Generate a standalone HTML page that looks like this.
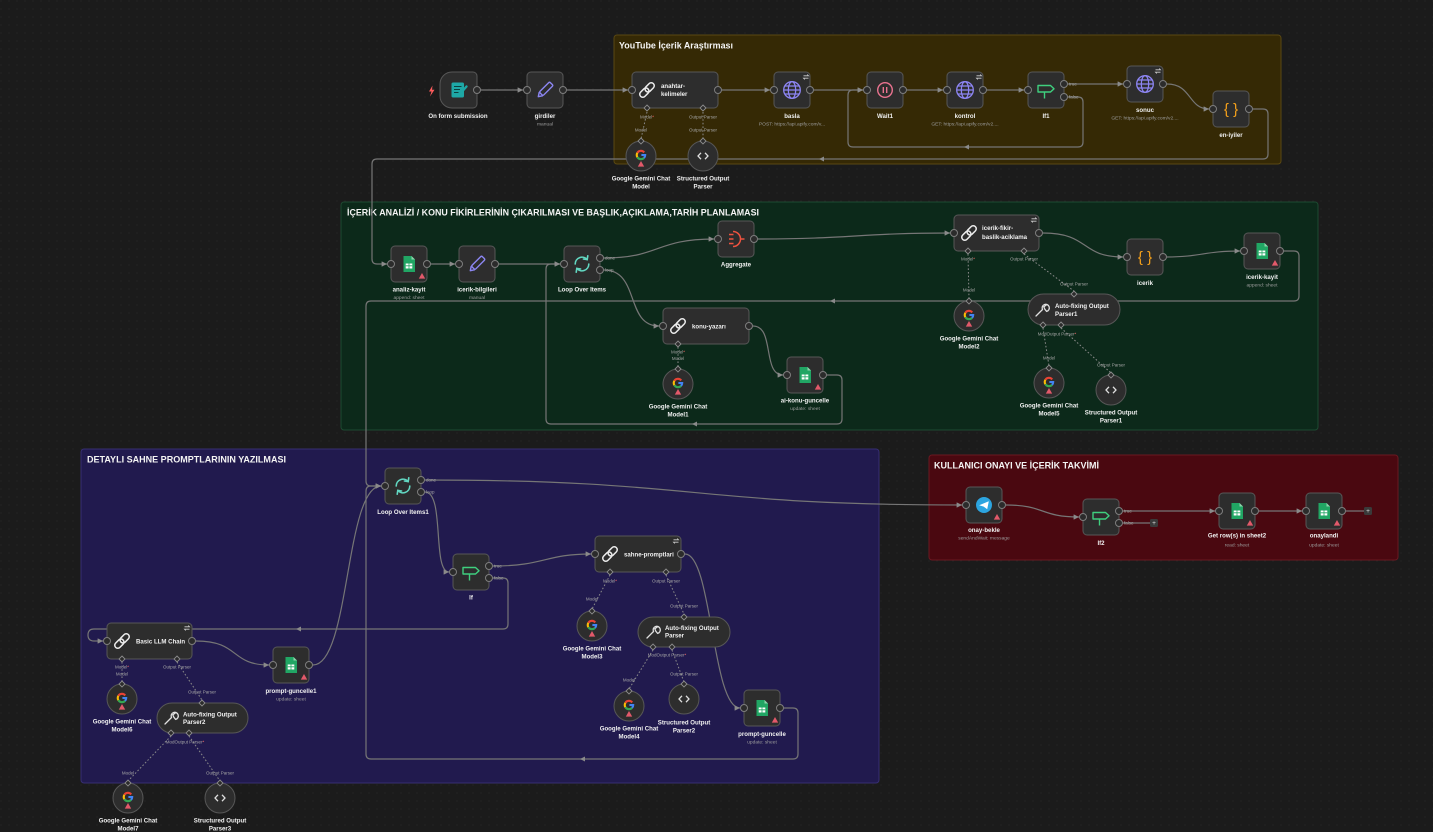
<!DOCTYPE html>
<html><head><meta charset="utf-8">
<style>
html,body{margin:0;padding:0;background:#1b1b1b;}
svg{display:block}
.n{fill:#2d2d2d;stroke:#575757;stroke-width:1}
.hd{fill:#2b2b2b;stroke:#7e7e7e;stroke-width:1}
.dm{fill:#2b2b2b;stroke:#8c8c8c;stroke-width:0.9}
.e{fill:none;stroke:#767676;stroke-width:1.2}
.d{fill:none;stroke:#8a8a8a;stroke-width:1;stroke-dasharray:1.6 2}
.t{font-size:6.1px;font-weight:bold;fill:#f0f0f0;text-anchor:middle}
.wt{font-size:6.1px;font-weight:bold;fill:#f0f0f0}
.s{font-size:4.9px;fill:#9c9c9c;text-anchor:middle}
.h{font-size:4.5px;fill:#a6a6a6;text-anchor:middle}
.o{font-size:4.5px;fill:#a6a6a6}
.g{font-size:9.5px;font-weight:bold;fill:#f4f4f4}
.br{font-size:15px;fill:#f7a21b;text-anchor:middle}
text{font-family:"Liberation Sans",Arial,sans-serif}
</style></head>
<body>
<svg width="1433" height="832" viewBox="0 0 1433 832" xmlns="http://www.w3.org/2000/svg">
<defs>
<pattern id="dots" width="8" height="8" patternUnits="userSpaceOnUse"><circle cx="1" cy="1" r="0.55" fill="#2f2f2f"/></pattern>
<marker id="ar" viewBox="0 0 10 10" refX="10" refY="5" markerWidth="4.5" markerHeight="4.5" orient="auto"><path d="M0,0 L10,5 L0,10 z" fill="#8a8a8a"/></marker>
<g id="sheet"><path d="M-5.5,-8 H2.5 L6,-4.5 V8 H-5.5 Z" fill="#21a664"/><path d="M2.5,-8 V-4.5 H6 Z" fill="#8fd3ab"/><rect x="-3.3" y="-0.5" width="6.6" height="5" fill="#fff"/><path d="M-3.3,1.8 H3.3 M0,-0.5 V4.5" stroke="#21a664" stroke-width="0.8"/></g>
<g id="globe" fill="none" stroke="#8d85f3" stroke-width="1.3"><circle r="8.3"/><ellipse rx="3.7" ry="8.3"/><path d="M-8.3,0 H8.3 M-7.2,-4 H7.2 M-7.2,4 H7.2"/></g>
<g id="pause" fill="none" stroke="#ea7390" stroke-width="1.4"><circle r="7.3"/><path d="M-1.7,-3 V3 M1.7,-3 V3"/></g>
<g id="ifi" fill="none" stroke="#3fcf7e" stroke-width="1.4" stroke-linejoin="round"><path d="M-8,-4.5 H4.5 L8,-1.2 L4.5,2 H-8 Z"/><path d="M-1.5,2 V8.5"/></g>
<g id="link" fill="none" stroke="#ececec" stroke-width="1.5"><g transform="rotate(-45)"><rect x="-9" y="-3" width="10.5" height="6" rx="3"/><rect x="-1.5" y="-3" width="10.5" height="6" rx="3"/></g></g>
<g id="pencil" fill="none" stroke="#8c86f2" stroke-width="1.4" stroke-linejoin="round"><g transform="rotate(45)"><rect x="-2.6" y="-9" width="5.2" height="14.5" rx="1.3"/><path d="M-2.6,5.5 L0,9.5 L2.6,5.5"/></g></g>
<g id="loop" fill="none" stroke="#62d7c1" stroke-width="1.6" stroke-linecap="round"><path d="M-6.8,0 A6.8,6.8 0 0 1 5.2,-4.4"/><path d="M6.8,0 A6.8,6.8 0 0 1 -5.2,4.4"/><path d="M5.8,-8.2 L5.2,-4.4 L1.4,-5"/><path d="M-5.8,8.2 L-5.2,4.4 L-1.4,5"/></g>
<g id="agg" fill="none" stroke="#ee5340" stroke-width="1.5"><path d="M-7,-4.5 H-2.5 M-7,0 H-2.5 M-7,4.5 H-2.5"/><path d="M-3,-7.5 A7.5,7.5 0 0 1 -3,7.5"/><path d="M4.5,0 H8.5"/></g>
<g id="form"><rect x="-7.5" y="-7.5" width="12.5" height="15" rx="1.6" fill="#1ea8a6"/><path d="M-5,-3.5 H2.5 M-5,-0.5 H1 M-5,2.5 H-0.5" stroke="#0c3e3d" stroke-width="1"/><path d="M0.5,4.5 L7.5,-3.5" stroke="#1ea8a6" stroke-width="2.4" stroke-linecap="round"/></g>
<g id="wrench" fill="none" stroke="#e0e0e0" stroke-width="1.3" stroke-linecap="round"><path d="M-6,6 L0.5,-0.5"/><path d="M0.5,-0.5 A3.6,3.6 0 1 1 4.6,1.4 L2.8,-0.8 L1.8,-3.2 L4.4,-5.2"/></g>
<g id="code" fill="none" stroke="#e0e0e0" stroke-width="1.3"><path d="M-2,-3.2 L-5,0 L-2,3.2 M2,-3.2 L5,0 L2,3.2"/></g>
<g id="tg"><circle r="8" fill="#2ca5e0"/><path d="M-4.8,0.2 L4.8,-3.8 L3.2,4.2 L-0.3,1.6 Z" fill="#fff"/></g>
<g id="gg" fill="none" stroke-width="2.1"><path d="M3.2,-2.6 A4.2,4.2 0 0 0 -3.6,-2.2" stroke="#ea4335"/><path d="M-3.6,-2.2 A4.2,4.2 0 0 0 -3.6,2.2" stroke="#fbbc05"/><path d="M-3.6,2.2 A4.2,4.2 0 0 0 3,2.9" stroke="#34a853"/><path d="M3,2.9 A4.2,4.2 0 0 0 4.2,0 H0.4" stroke="#4285f4"/></g>
<path id="warn" d="M0,-3 L3.2,2.6 H-3.2 Z" fill="#e2596a"/>
<path id="rf" d="M-2.5,-1.2 H2.5 L1.2,-2.5 M2.5,1.2 H-2.5 L-1.2,2.5" fill="none" stroke="#cfcfcf" stroke-width="0.8"/>
</defs>

<rect width="1433" height="832" fill="#1b1b1b"/>
<rect width="1433" height="832" fill="url(#dots)"/>

<rect x="614" y="35" width="667" height="129" rx="3" fill="#352905" stroke="#5a4812"/>
<rect x="341" y="202" width="977" height="228" rx="3" fill="#0c291a" stroke="#1d4a31"/>
<rect x="81" y="449" width="798" height="334" rx="3" fill="#211a4e" stroke="#372f72"/>
<rect x="929" y="455" width="469" height="105" rx="3" fill="#4a0810" stroke="#6b1821"/>
<text x="619" y="48.5" class="g" textLength="114" lengthAdjust="spacingAndGlyphs">YouTube İçerik Araştırması</text>
<text x="347" y="215.5" class="g" textLength="412" lengthAdjust="spacingAndGlyphs">İÇERİK ANALİZİ / KONU FİKİRLERİNİN ÇIKARILMASI VE BAŞLIK,AÇIKLAMA,TARİH PLANLAMASI</text>
<text x="87" y="462.5" class="g" textLength="199" lengthAdjust="spacingAndGlyphs">DETAYLI SAHNE PROMPTLARININ YAZILMASI</text>
<text x="934" y="468.5" class="g" textLength="165" lengthAdjust="spacingAndGlyphs">KULLANICI ONAYI VE İÇERİK TAKVİMİ</text>

<g>
<path class="e" d="M481,90 H523" marker-end="url(#ar)"/>
<path class="e" d="M567,90 H628" marker-end="url(#ar)"/>
<path class="e" d="M722,90 H770" marker-end="url(#ar)"/>
<path class="e" d="M814,90 H863" marker-end="url(#ar)"/>
<path class="e" d="M907,90 H943" marker-end="url(#ar)"/>
<path class="e" d="M987,90 H1024" marker-end="url(#ar)"/>
<path class="e" d="M1068,84 H1123" marker-end="url(#ar)"/>
<path class="e" d="M1167,84 C1192,84 1188,109 1209,109" marker-end="url(#ar)"/>
<path class="e" d="M1068,97 H1078 Q1083,97 1083,102 V142 Q1083,147 1078,147 H853 Q848,147 848,142 V95 Q848,90 853,90 H863" marker-end="url(#ar)"/>
<path class="e" d="M1253,109 H1263 Q1268,109 1268,114 V154 Q1268,159 1263,159 H377 Q372,159 372,164 V259 Q372,264 377,264 H387" marker-end="url(#ar)"/>
<path class="e" d="M431,264 H455" marker-end="url(#ar)"/>
<path class="e" d="M499,264 H560" marker-end="url(#ar)"/>
<path class="e" d="M604,258 C660,258 655,239 714,239" marker-end="url(#ar)"/>
<path class="e" d="M604,270 C640,270 625,326 659,326" marker-end="url(#ar)"/>
<path class="e" d="M758,239 C850,239 860,233 950,233" marker-end="url(#ar)"/>
<path class="e" d="M1043,233 C1090,233 1080,257 1123,257" marker-end="url(#ar)"/>
<path class="e" d="M1167,257 C1200,257 1205,251 1240,251" marker-end="url(#ar)"/>
<path class="e" d="M753,326 C775,326 762,375 783,375" marker-end="url(#ar)"/>
<path class="e" d="M827,375 H837 Q842,375 842,380 V419 Q842,424 837,424 H551 Q546,424 546,419 V269 Q546,264 551,264 H560" marker-end="url(#ar)"/>
<path class="e" d="M1284,251 H1294 Q1299,251 1299,256 V296 Q1299,301 1294,301 H371 Q366,301 366,306 V481 Q366,486 371,486 H381" marker-end="url(#ar)"/>
<path class="e" d="M425,480 C700,480 690,505 962,505" marker-end="url(#ar)"/>
<path class="e" d="M425,492 C445,492 432,572 449,572" marker-end="url(#ar)"/>
<path class="e" d="M493,566 C545,566 545,554 591,554" marker-end="url(#ar)"/>
<path class="e" d="M493,578 H503 Q508,578 508,583 V624 Q508,629 503,629 H94 Q88,629 88,635 Q88,641 94,641 H103" marker-end="url(#ar)"/>
<path class="e" d="M196,641 C240,641 230,665 269,665" marker-end="url(#ar)"/>
<path class="e" d="M313,665 C350,665 345,486 381,486" marker-end="url(#ar)"/>
<path class="e" d="M685,554 C712,554 712,708 740,708" marker-end="url(#ar)"/>
<path class="e" d="M784,708 H793 Q798,708 798,713 V754 Q798,759 793,759 H371 Q366,759 366,754 V491 Q366,486 371,486 H381" marker-end="url(#ar)"/>
<path class="e" d="M1006,505 C1045,505 1040,517 1079,517" marker-end="url(#ar)"/>
<path class="e" d="M1123,511 H1215" marker-end="url(#ar)"/>
<path class="e" d="M1259,511 H1302" marker-end="url(#ar)"/>
</g>
<path class="e" d="M1123,523 H1150"/>
<path class="e" d="M1346,511 H1364"/>
<rect x="1150" y="519" width="8" height="8" rx="1.5" fill="#3a3a3a"/><text x="1154" y="525" style="font-size:6.5px;fill:#ddd;text-anchor:middle">+</text>
<rect x="1364" y="507" width="8" height="8" rx="1.5" fill="#3a3a3a"/><text x="1368" y="513" style="font-size:6.5px;fill:#ddd;text-anchor:middle">+</text>
<g fill="#8a8a8a">
<path d="M964,147 l5,-2.5 v5 z"/>
<path d="M819,159 l5,-2.5 v5 z"/>
<path d="M692,424 l5,-2.5 v5 z"/>
<path d="M830,301 l5,-2.5 v5 z"/>
<path d="M296,629 l5,-2.5 v5 z"/>
<path d="M580,759 l5,-2.5 v5 z"/>
</g>

<g class="d">
<path d="M647,112 L641,139"/><path d="M703,112 L703,139"/>
<path d="M678,347 L678,367"/>
<path d="M968,254 L969,299"/><path d="M1024,254 L1074,291"/>
<path d="M1043,328 L1049,366"/><path d="M1061,328 L1111,373"/>
<path d="M610,575 L592,609"/><path d="M666,575 L684,614"/>
<path d="M653,650 L629,689"/><path d="M672,650 L684,682"/>
<path d="M122,662 L122,682"/><path d="M177,662 L202,700"/>
<path d="M171,736 L128,781"/><path d="M189,736 L220,781"/>
</g>

<path d="M452,72 H473 a4,4 0 0 1 4,4 V104 a4,4 0 0 1 -4,4 H452 a12,12 0 0 1 -12,-12 V84 a12,12 0 0 1 12,-12 Z" class="n"/>
<use href="#form" x="459" y="90"/>
<path d="M432.5,85.5 L429,91.5 H431.5 L430,96.5 L434.5,89.8 H432 Z" fill="#ff5c5c"/>
<circle cx="477" cy="90" r="3.5" class="hd"/>
<text x="458" y="118" class="t">On form submission</text>

<rect x="527" y="72" width="36" height="36" rx="4" class="n"/><use href="#pencil" x="545" y="90"/>
<circle cx="527" cy="90" r="3.5" class="hd"/><circle cx="563" cy="90" r="3.5" class="hd"/>
<text x="545" y="118" class="t">girdiler</text><text x="545" y="125.5" class="s">manual</text>

<rect x="632" y="72" width="86" height="36" rx="4" class="n"/><use href="#link" x="647" y="90"/>
<text x="661" y="88" class="wt">anahtar-</text><text x="661" y="96" class="wt">kelimeler</text>
<circle cx="632" cy="90" r="3.5" class="hd"/><circle cx="718" cy="90" r="3.5" class="hd"/>
<path d="M647,105 l3,3 l-3,3 l-3,-3z" class="dm"/><path d="M703,105 l3,3 l-3,3 l-3,-3z" class="dm"/>
<text x="647" y="118.5" class="h">Model<tspan fill="#ff6b6b">*</tspan></text><text x="703" y="118.5" class="h">Output Parser</text>
<text x="641" y="131.5" class="h">Model</text><text x="703" y="131.5" class="h">Output Parser</text>

<rect x="774" y="72" width="36" height="36" rx="4" class="n"/><use href="#globe" x="792" y="90"/><use href="#rf" x="806" y="77"/>
<circle cx="774" cy="90" r="3.5" class="hd"/><circle cx="810" cy="90" r="3.5" class="hd"/>
<text x="792" y="118" class="t">basla</text><text x="792" y="125.5" class="s">POST: https://api.apify.com/v...</text>

<rect x="867" y="72" width="36" height="36" rx="4" class="n"/><use href="#pause" x="885" y="90"/>
<circle cx="867" cy="90" r="3.5" class="hd"/><circle cx="903" cy="90" r="3.5" class="hd"/>
<text x="885" y="118" class="t">Wait1</text>

<rect x="947" y="72" width="36" height="36" rx="4" class="n"/><use href="#globe" x="965" y="90"/><use href="#rf" x="979" y="77"/>
<circle cx="947" cy="90" r="3.5" class="hd"/><circle cx="983" cy="90" r="3.5" class="hd"/>
<text x="965" y="118" class="t">kontrol</text><text x="965" y="125.5" class="s">GET: https://api.apify.com/v2....</text>

<rect x="1028" y="72" width="36" height="36" rx="4" class="n"/><use href="#ifi" x="1046" y="90"/>
<circle cx="1028" cy="90" r="3.5" class="hd"/><circle cx="1064" cy="84" r="3.5" class="hd"/><circle cx="1064" cy="97" r="3.5" class="hd"/>
<text x="1069" y="85.5" class="o">true</text><text x="1069" y="98.5" class="o">false</text>
<text x="1046" y="118" class="t">If1</text>

<rect x="1127" y="66" width="36" height="36" rx="4" class="n"/><use href="#globe" x="1145" y="84"/><use href="#rf" x="1158" y="71"/>
<circle cx="1127" cy="84" r="3.5" class="hd"/><circle cx="1163" cy="84" r="3.5" class="hd"/>
<text x="1145" y="112" class="t">sonuc</text><text x="1145" y="119.5" class="s">GET: https://api.apify.com/v2....</text>

<rect x="1213" y="91" width="36" height="36" rx="4" class="n"/><text x="1231" y="114" class="br">{ }</text>
<circle cx="1213" cy="109" r="3.5" class="hd"/><circle cx="1249" cy="109" r="3.5" class="hd"/>
<text x="1231" y="137" class="t">en-iyiler</text>

<circle cx="641" cy="156" r="15" class="n"/><use href="#gg" x="641" y="155"/><use href="#warn" x="641" y="164"/>
<path d="M641,138 l3,3 l-3,3 l-3,-3z" class="dm"/>
<text x="641" y="180.3" class="t">Google Gemini Chat</text><text x="641" y="188.3" class="t">Model</text>
<circle cx="703" cy="156" r="15" class="n"/><use href="#code" x="703" y="156"/>
<path d="M703,138 l3,3 l-3,3 l-3,-3z" class="dm"/>
<text x="703" y="180.3" class="t">Structured Output</text><text x="703" y="188.3" class="t">Parser</text>

<rect x="391" y="246" width="36" height="36" rx="4" class="n"/><use href="#sheet" x="409" y="264"/><use href="#warn" x="422" y="276"/>
<circle cx="391" cy="264" r="3.5" class="hd"/><circle cx="427" cy="264" r="3.5" class="hd"/>
<text x="409" y="291.5" class="t">analiz-kayit</text><text x="409" y="299" class="s">append: sheet</text>

<rect x="459" y="246" width="36" height="36" rx="4" class="n"/><use href="#pencil" x="477" y="264"/>
<circle cx="459" cy="264" r="3.5" class="hd"/><circle cx="495" cy="264" r="3.5" class="hd"/>
<text x="477" y="291.5" class="t">icerik-bilgileri</text><text x="477" y="299" class="s">manual</text>

<rect x="564" y="246" width="36" height="36" rx="4" class="n"/><use href="#loop" x="582" y="264"/>
<circle cx="564" cy="264" r="3.5" class="hd"/><circle cx="600" cy="258" r="3.5" class="hd"/><circle cx="600" cy="270" r="3.5" class="hd"/>
<text x="605" y="259.5" class="o">done</text><text x="605" y="271.5" class="o">loop</text>
<text x="582" y="291.5" class="t">Loop Over Items</text>

<rect x="718" y="221" width="36" height="36" rx="4" class="n"/><use href="#agg" x="736" y="239"/>
<circle cx="718" cy="239" r="3.5" class="hd"/><circle cx="754" cy="239" r="3.5" class="hd"/>
<text x="736" y="266.5" class="t">Aggregate</text>

<rect x="663" y="308" width="86" height="36" rx="4" class="n"/><use href="#link" x="678" y="326"/>
<text x="692" y="328.3" class="wt">konu-yazarı</text>
<circle cx="663" cy="326" r="3.5" class="hd"/><circle cx="749" cy="326" r="3.5" class="hd"/>
<path d="M678,341 l3,3 l-3,3 l-3,-3z" class="dm"/>
<text x="678" y="353.5" class="h">Model<tspan fill="#ff6b6b">*</tspan></text><text x="678" y="360" class="h">Model</text>
<circle cx="678" cy="384" r="15" class="n"/><use href="#gg" x="678" y="383"/><use href="#warn" x="678" y="392"/>
<path d="M678,366 l3,3 l-3,3 l-3,-3z" class="dm"/>
<text x="678" y="408.3" class="t">Google Gemini Chat</text><text x="678" y="416.3" class="t">Model1</text>

<rect x="787" y="357" width="36" height="36" rx="4" class="n"/><use href="#sheet" x="805" y="375"/><use href="#warn" x="818" y="387"/>
<circle cx="787" cy="375" r="3.5" class="hd"/><circle cx="823" cy="375" r="3.5" class="hd"/>
<text x="805" y="402.5" class="t">ai-konu-guncelle</text><text x="805" y="410" class="s">update: sheet</text>

<rect x="954" y="215" width="85" height="36" rx="4" class="n"/><use href="#link" x="969" y="233"/><use href="#rf" x="1034" y="220"/>
<text x="982" y="230" class="wt">icerik-fikir-</text><text x="982" y="239" class="wt">baslik-aciklama</text>
<circle cx="954" cy="233" r="3.5" class="hd"/><circle cx="1039" cy="233" r="3.5" class="hd"/>
<path d="M968,248 l3,3 l-3,3 l-3,-3z" class="dm"/><path d="M1024,248 l3,3 l-3,3 l-3,-3z" class="dm"/>
<text x="968" y="260.5" class="h">Model<tspan fill="#ff6b6b">*</tspan></text><text x="1024" y="260.5" class="h">Output Parser</text>
<text x="969" y="291.5" class="h">Model</text>
<circle cx="969" cy="316" r="15" class="n"/><use href="#gg" x="969" y="315"/><use href="#warn" x="969" y="324"/>
<path d="M969,298 l3,3 l-3,3 l-3,-3z" class="dm"/>
<text x="969" y="340.3" class="t">Google Gemini Chat</text><text x="969" y="348.3" class="t">Model2</text>

<text x="1074" y="285.5" class="h">Output Parser</text>
<rect x="1028" y="294" width="92" height="31" rx="15.5" class="n"/><use href="#wrench" x="1042" y="310"/>
<text x="1055" y="308" class="wt">Auto-fixing Output</text><text x="1055" y="316" class="wt">Parser1</text>
<path d="M1074,291 l3,3 l-3,3 l-3,-3z" class="dm"/>
<path d="M1043,322 l3,3 l-3,3 l-3,-3z" class="dm"/><path d="M1061,322 l3,3 l-3,3 l-3,-3z" class="dm"/>
<text x="1057" y="335.5" class="h">ModOutput Parser<tspan fill="#ff6b6b">*</tspan></text>
<text x="1049" y="359.5" class="h">Model</text><text x="1111" y="366.5" class="h">Output Parser</text>
<circle cx="1049" cy="383" r="15" class="n"/><use href="#gg" x="1049" y="382"/><use href="#warn" x="1049" y="391"/>
<path d="M1049,365 l3,3 l-3,3 l-3,-3z" class="dm"/>
<text x="1049" y="407.3" class="t">Google Gemini Chat</text><text x="1049" y="415.3" class="t">Model5</text>
<circle cx="1111" cy="390" r="15" class="n"/><use href="#code" x="1111" y="390"/>
<path d="M1111,372 l3,3 l-3,3 l-3,-3z" class="dm"/>
<text x="1111" y="414.3" class="t">Structured Output</text><text x="1111" y="422.3" class="t">Parser1</text>

<rect x="1127" y="239" width="36" height="36" rx="4" class="n"/><text x="1145" y="262" class="br">{ }</text>
<circle cx="1127" cy="257" r="3.5" class="hd"/><circle cx="1163" cy="257" r="3.5" class="hd"/>
<text x="1145" y="285" class="t">icerik</text>

<rect x="1244" y="233" width="36" height="36" rx="4" class="n"/><use href="#sheet" x="1262" y="251"/><use href="#warn" x="1275" y="263"/>
<circle cx="1244" cy="251" r="3.5" class="hd"/><circle cx="1280" cy="251" r="3.5" class="hd"/>
<text x="1262" y="279" class="t">icerik-kayit</text><text x="1262" y="286.5" class="s">append: sheet</text>

<rect x="385" y="468" width="36" height="36" rx="4" class="n"/><use href="#loop" x="403" y="486"/>
<circle cx="385" cy="486" r="3.5" class="hd"/><circle cx="421" cy="480" r="3.5" class="hd"/><circle cx="421" cy="492" r="3.5" class="hd"/>
<text x="426" y="481.5" class="o">done</text><text x="426" y="493.5" class="o">loop</text>
<text x="403" y="514" class="t">Loop Over Items1</text>

<rect x="453" y="554" width="36" height="36" rx="4" class="n"/><use href="#ifi" x="471" y="572"/>
<circle cx="453" cy="572" r="3.5" class="hd"/><circle cx="489" cy="566" r="3.5" class="hd"/><circle cx="489" cy="578" r="3.5" class="hd"/>
<text x="494" y="567.5" class="o">true</text><text x="494" y="579.5" class="o">false</text>
<text x="471" y="599.5" class="t">If</text>

<rect x="107" y="623" width="85" height="36" rx="4" class="n"/><use href="#link" x="122" y="641"/><use href="#rf" x="187" y="628"/>
<text x="136" y="643.3" class="wt">Basic LLM Chain</text>
<circle cx="107" cy="641" r="3.5" class="hd"/><circle cx="192" cy="641" r="3.5" class="hd"/>
<path d="M122,656 l3,3 l-3,3 l-3,-3z" class="dm"/><path d="M177,656 l3,3 l-3,3 l-3,-3z" class="dm"/>
<text x="122" y="668.5" class="h">Model<tspan fill="#ff6b6b">*</tspan></text><text x="122" y="675.5" class="h">Model</text>
<text x="177" y="668.5" class="h">Output Parser</text>
<circle cx="122" cy="699" r="15" class="n"/><use href="#gg" x="122" y="698"/><use href="#warn" x="122" y="707"/>
<path d="M122,681 l3,3 l-3,3 l-3,-3z" class="dm"/>
<text x="122" y="723.5" class="t">Google Gemini Chat</text><text x="122" y="731.5" class="t">Model6</text>

<text x="202" y="693.5" class="h">Output Parser</text>
<rect x="157" y="703" width="91" height="30" rx="15" class="n"/><use href="#wrench" x="171" y="718"/>
<text x="183" y="716.5" class="wt">Auto-fixing Output</text><text x="183" y="724" class="wt">Parser2</text>
<path d="M202,700 l3,3 l-3,3 l-3,-3z" class="dm"/>
<path d="M171,730 l3,3 l-3,3 l-3,-3z" class="dm"/><path d="M189,730 l3,3 l-3,3 l-3,-3z" class="dm"/>
<text x="185" y="743.5" class="h">ModOutput Parser<tspan fill="#ff6b6b">*</tspan></text>
<text x="128" y="774.5" class="h">Model</text><text x="220" y="774.5" class="h">Output Parser</text>
<circle cx="128" cy="798" r="15" class="n"/><use href="#gg" x="128" y="797"/><use href="#warn" x="128" y="806"/>
<path d="M128,780 l3,3 l-3,3 l-3,-3z" class="dm"/>
<text x="128" y="822.5" class="t">Google Gemini Chat</text><text x="128" y="830.3" class="t">Model7</text>
<circle cx="220" cy="798" r="15" class="n"/><use href="#code" x="220" y="798"/>
<path d="M220,780 l3,3 l-3,3 l-3,-3z" class="dm"/>
<text x="220" y="822.5" class="t">Structured Output</text><text x="220" y="830.3" class="t">Parser3</text>

<rect x="273" y="647" width="36" height="36" rx="4" class="n"/><use href="#sheet" x="291" y="665"/><use href="#warn" x="304" y="677"/>
<circle cx="273" cy="665" r="3.5" class="hd"/><circle cx="309" cy="665" r="3.5" class="hd"/>
<text x="291" y="693" class="t">prompt-guncelle1</text><text x="291" y="700.5" class="s">update: sheet</text>

<rect x="595" y="536" width="86" height="36" rx="4" class="n"/><use href="#link" x="610" y="554"/><use href="#rf" x="676" y="541"/>
<text x="624" y="556.3" class="wt">sahne-promptlari</text>
<circle cx="595" cy="554" r="3.5" class="hd"/><circle cx="681" cy="554" r="3.5" class="hd"/>
<path d="M610,569 l3,3 l-3,3 l-3,-3z" class="dm"/><path d="M666,569 l3,3 l-3,3 l-3,-3z" class="dm"/>
<text x="610" y="582.5" class="h">Model<tspan fill="#ff6b6b">*</tspan></text><text x="666" y="582.5" class="h">Output Parser</text>
<text x="592" y="600.5" class="h">Model</text>
<circle cx="592" cy="626" r="15" class="n"/><use href="#gg" x="592" y="625"/><use href="#warn" x="592" y="634"/>
<path d="M592,608 l3,3 l-3,3 l-3,-3z" class="dm"/>
<text x="592" y="650.3" class="t">Google Gemini Chat</text><text x="592" y="658.3" class="t">Model3</text>

<text x="684" y="607.5" class="h">Output Parser</text>
<rect x="638" y="617" width="92" height="30" rx="15" class="n"/><use href="#wrench" x="653" y="632"/>
<text x="665" y="630" class="wt">Auto-fixing Output</text><text x="665" y="637.5" class="wt">Parser</text>
<path d="M684,614 l3,3 l-3,3 l-3,-3z" class="dm"/>
<path d="M653,644 l3,3 l-3,3 l-3,-3z" class="dm"/><path d="M672,644 l3,3 l-3,3 l-3,-3z" class="dm"/>
<text x="667" y="656.5" class="h">ModOutput Parser<tspan fill="#ff6b6b">*</tspan></text>
<text x="629" y="681.5" class="h">Model</text><text x="684" y="675.5" class="h">Output Parser</text>
<circle cx="629" cy="706" r="15" class="n"/><use href="#gg" x="629" y="705"/><use href="#warn" x="629" y="714"/>
<path d="M629,688 l3,3 l-3,3 l-3,-3z" class="dm"/>
<text x="629" y="730.3" class="t">Google Gemini Chat</text><text x="629" y="738.3" class="t">Model4</text>
<circle cx="684" cy="699" r="15" class="n"/><use href="#code" x="684" y="699"/>
<path d="M684,681 l3,3 l-3,3 l-3,-3z" class="dm"/>
<text x="684" y="724.3" class="t">Structured Output</text><text x="684" y="732.3" class="t">Parser2</text>

<rect x="744" y="690" width="36" height="36" rx="4" class="n"/><use href="#sheet" x="762" y="708"/><use href="#warn" x="775" y="720"/>
<circle cx="744" cy="708" r="3.5" class="hd"/><circle cx="780" cy="708" r="3.5" class="hd"/>
<text x="762" y="736" class="t">prompt-guncelle</text><text x="762" y="743.5" class="s">update: sheet</text>

<rect x="966" y="487" width="36" height="36" rx="4" class="n"/><use href="#tg" x="984" y="505"/><use href="#warn" x="997" y="517"/>
<circle cx="966" cy="505" r="3.5" class="hd"/><circle cx="1002" cy="505" r="3.5" class="hd"/>
<text x="984" y="532" class="t">onay-bekle</text><text x="984" y="539.5" class="s">sendAndWait: message</text>

<rect x="1083" y="499" width="36" height="36" rx="4" class="n"/><use href="#ifi" x="1101" y="517"/>
<circle cx="1083" cy="517" r="3.5" class="hd"/><circle cx="1119" cy="511" r="3.5" class="hd"/><circle cx="1119" cy="523" r="3.5" class="hd"/>
<text x="1124" y="512.5" class="o">true</text><text x="1124" y="524.5" class="o">false</text>
<text x="1101" y="545" class="t">If2</text>

<rect x="1219" y="493" width="36" height="36" rx="4" class="n"/><use href="#sheet" x="1237" y="511"/><use href="#warn" x="1250" y="523"/>
<circle cx="1219" cy="511" r="3.5" class="hd"/><circle cx="1255" cy="511" r="3.5" class="hd"/>
<text x="1237" y="537.5" class="t">Get row(s) in sheet2</text><text x="1237" y="546.5" class="s">read: sheet</text>

<rect x="1306" y="493" width="36" height="36" rx="4" class="n"/><use href="#sheet" x="1324" y="511"/><use href="#warn" x="1337" y="523"/>
<circle cx="1306" cy="511" r="3.5" class="hd"/><circle cx="1342" cy="511" r="3.5" class="hd"/>
<text x="1324" y="537.5" class="t">onaylandi</text><text x="1324" y="546.5" class="s">update: sheet</text>
</svg>
</body></html>
